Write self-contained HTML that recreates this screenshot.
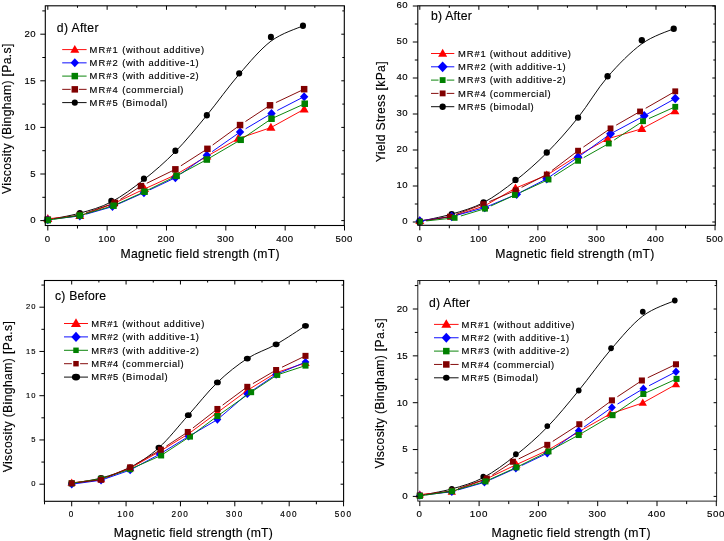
<!DOCTYPE html>
<html><head><meta charset="utf-8"><title>MR fluid charts</title>
<style>
html,body{margin:0;padding:0;background:#fff;}
body{width:724px;height:541px;overflow:hidden;}
svg{display:block;filter:blur(0.3px);}
text{font-family:"Liberation Sans",sans-serif;fill:#000;stroke:#000;stroke-width:0.15px;}
</style></head><body>
<svg width="724" height="541" viewBox="0 0 724 541">
<rect width="724" height="541" fill="#fff"/>
<g><path d="M47.8 219.67 C53.14 218.58 69.26 216.1 79.84 213.14 C90.43 210.19 100.61 207.55 111.29 201.96 C121.98 196.37 133.25 187.98 143.93 179.59 C154.61 171.2 164.9 162.35 175.38 151.63 C185.86 140.91 196.2 128.18 206.83 115.28 C217.46 102.39 228.49 86.62 239.17 74.28 C249.85 61.93 260.29 49.27 270.92 41.19 C281.55 33.11 297.62 28.38 302.96 25.81" fill="none" stroke="#000000" stroke-width="0.95"/>
<ellipse cx="47.8" cy="219.67" rx="3.05" ry="3.2" fill="#000000"/>
<ellipse cx="79.84" cy="213.14" rx="3.05" ry="3.2" fill="#000000"/>
<ellipse cx="111.29" cy="201.03" rx="3.05" ry="3.2" fill="#000000"/>
<ellipse cx="143.93" cy="178.66" rx="3.05" ry="3.2" fill="#000000"/>
<ellipse cx="175.38" cy="150.7" rx="3.05" ry="3.2" fill="#000000"/>
<ellipse cx="206.83" cy="115.28" rx="3.05" ry="3.2" fill="#000000"/>
<ellipse cx="239.17" cy="73.34" rx="3.05" ry="3.2" fill="#000000"/>
<ellipse cx="270.92" cy="37" rx="3.05" ry="3.2" fill="#000000"/>
<ellipse cx="302.96" cy="25.81" rx="3.05" ry="3.2" fill="#000000"/>
<path d="M47.8 218.74 L79.84 215.94 L113.07 203.82 L144.52 188.91 L175.38 174.93 L206.83 156.29 L238.28 138.58 L270.92 127.59 L304.15 109.23" fill="none" stroke="#ff0000" stroke-width="0.95"/>
<path d="M47.8 214.01 L52.3 221.89 L43.3 221.89 Z" fill="#ff0000"/>
<path d="M79.84 211.22 L84.34 219.09 L75.34 219.09 Z" fill="#ff0000"/>
<path d="M113.07 199.1 L117.57 206.97 L108.57 206.97 Z" fill="#ff0000"/>
<path d="M144.52 184.19 L149.02 192.06 L140.02 192.06 Z" fill="#ff0000"/>
<path d="M175.38 170.21 L179.88 178.08 L170.88 178.08 Z" fill="#ff0000"/>
<path d="M206.83 151.57 L211.33 159.44 L202.33 159.44 Z" fill="#ff0000"/>
<path d="M238.28 133.86 L242.78 141.73 L233.78 141.73 Z" fill="#ff0000"/>
<path d="M270.92 122.86 L275.42 130.74 L266.42 130.74 Z" fill="#ff0000"/>
<path d="M304.15 104.5 L308.65 112.38 L299.65 112.38 Z" fill="#ff0000"/>
<path d="M54.26 218.92 L78.85 216.06 M86.09 214.16 L111.52 206.89 M118.42 203.98 L143.02 193.05 M149.8 189.86 L174.48 178.16 M180.68 173.96 L206.02 155.94 M212.15 151.63 L239.24 132.63 M245.65 128.75 L270.65 113.93 M277.29 110.45 L303.26 97.1" fill="none" stroke="#0000ff" stroke-width="0.95"/>
<path d="M47.8 215.17 L51.98 219.67 L47.8 224.17 L43.61 219.67 Z" fill="#0000ff"/>
<path d="M79.84 211.44 L84.03 215.94 L79.84 220.44 L75.66 215.94 Z" fill="#0000ff"/>
<path d="M112.48 202.12 L116.67 206.62 L112.48 211.12 L108.3 206.62 Z" fill="#0000ff"/>
<path d="M143.93 188.14 L148.12 192.64 L143.93 197.14 L139.75 192.64 Z" fill="#0000ff"/>
<path d="M175.38 173.23 L179.57 177.73 L175.38 182.23 L171.2 177.73 Z" fill="#0000ff"/>
<path d="M206.83 150.86 L211.02 155.36 L206.83 159.86 L202.65 155.36 Z" fill="#0000ff"/>
<path d="M240.06 127.56 L244.25 132.06 L240.06 136.56 L235.88 132.06 Z" fill="#0000ff"/>
<path d="M271.51 108.92 L275.7 113.42 L271.51 117.92 L267.33 113.42 Z" fill="#0000ff"/>
<path d="M304.15 92.14 L308.33 96.64 L304.15 101.14 L299.96 96.64 Z" fill="#0000ff"/>
<path d="M54.23 218.73 L78.85 215.15 M85.99 212.88 L113.91 203.22 M120.32 199.38 L140.12 186.66 M146.81 183.27 L174.48 169.78 M180.86 165.84 L206.58 149.37 M212.68 145.01 L239.25 125.66 M245.49 121.49 L269.19 105.86 M275.91 102.53 L303.24 89.62" fill="none" stroke="#800000" stroke-width="0.95"/>
<rect x="44.55" y="216.42" width="6.5" height="6.5" fill="#800000"/>
<rect x="76.59" y="211.76" width="6.5" height="6.5" fill="#800000"/>
<rect x="111.6" y="199.64" width="6.5" height="6.5" fill="#800000"/>
<rect x="137.71" y="182.87" width="6.5" height="6.5" fill="#800000"/>
<rect x="172.13" y="166.09" width="6.5" height="6.5" fill="#800000"/>
<rect x="204.17" y="145.59" width="6.5" height="6.5" fill="#800000"/>
<rect x="236.81" y="121.82" width="6.5" height="6.5" fill="#800000"/>
<rect x="266.78" y="102.06" width="6.5" height="6.5" fill="#800000"/>
<rect x="300.9" y="85.94" width="6.5" height="6.5" fill="#800000"/>
<path d="M47.8 220.13 L79.84 215.47 L113.49 205.69 L144.52 191.71 L176.57 175.86 L206.83 159.55 L240.66 139.8 L271.51 118.73 L304.74 103.73" fill="none" stroke="#008000" stroke-width="0.95"/>
<rect x="44.55" y="216.88" width="6.5" height="6.5" fill="#008000"/>
<rect x="76.59" y="212.22" width="6.5" height="6.5" fill="#008000"/>
<rect x="110.24" y="202.44" width="6.5" height="6.5" fill="#008000"/>
<rect x="141.27" y="188.46" width="6.5" height="6.5" fill="#008000"/>
<rect x="173.32" y="172.61" width="6.5" height="6.5" fill="#008000"/>
<rect x="203.58" y="156.3" width="6.5" height="6.5" fill="#008000"/>
<rect x="237.41" y="136.55" width="6.5" height="6.5" fill="#008000"/>
<rect x="268.26" y="115.48" width="6.5" height="6.5" fill="#008000"/>
<rect x="301.49" y="100.48" width="6.5" height="6.5" fill="#008000"/>
<rect x="45.3" y="5.8" width="299" height="219.7" fill="none" stroke="#000" stroke-width="1.1"/>
<path d="M47.8 225.5 v5 M47.8 5.8 v4 M77.47 225.5 v3 M77.47 5.8 v2 M107.14 225.5 v5 M107.14 5.8 v4 M136.81 225.5 v3 M136.81 5.8 v2 M166.48 225.5 v5 M166.48 5.8 v4 M196.15 225.5 v3 M196.15 5.8 v2 M225.82 225.5 v5 M225.82 5.8 v4 M255.49 225.5 v3 M255.49 5.8 v2 M285.16 225.5 v5 M285.16 5.8 v4 M314.83 225.5 v3 M314.83 5.8 v2 M344.5 225.5 v5 M344.5 5.8 v4 M45.3 220.6 h-5 M344.3 220.6 h-3 M45.3 197.3 h-3 M344.3 197.3 h-2 M45.3 174 h-5 M344.3 174 h-3 M45.3 150.7 h-3 M344.3 150.7 h-2 M45.3 127.4 h-5 M344.3 127.4 h-3 M45.3 104.1 h-3 M344.3 104.1 h-2 M45.3 80.8 h-5 M344.3 80.8 h-3 M45.3 57.5 h-3 M344.3 57.5 h-2 M45.3 34.2 h-5 M344.3 34.2 h-3 M45.3 10.9 h-3 M344.3 10.9 h-2" stroke="#000" stroke-width="1" fill="none"/>
<text x="47.5" y="241.8" text-anchor="middle" font-size="9.6" letter-spacing="0.4">0</text>
<text x="106.84" y="241.8" text-anchor="middle" font-size="9.6" letter-spacing="0.4">100</text>
<text x="166.18" y="241.8" text-anchor="middle" font-size="9.6" letter-spacing="0.4">200</text>
<text x="225.52" y="241.8" text-anchor="middle" font-size="9.6" letter-spacing="0.4">300</text>
<text x="284.86" y="241.8" text-anchor="middle" font-size="9.6" letter-spacing="0.4">400</text>
<text x="344.2" y="241.8" text-anchor="middle" font-size="9.6" letter-spacing="0.4">500</text>
<text x="36.1" y="223.3" text-anchor="end" font-size="9.6" letter-spacing="0.4">0</text>
<text x="36.1" y="176.7" text-anchor="end" font-size="9.6" letter-spacing="0.4">5</text>
<text x="36.1" y="130.1" text-anchor="end" font-size="9.6" letter-spacing="0.4">10</text>
<text x="36.1" y="83.5" text-anchor="end" font-size="9.6" letter-spacing="0.4">15</text>
<text x="36.1" y="36.9" text-anchor="end" font-size="9.6" letter-spacing="0.4">20</text>
<text x="200.1" y="257.8" text-anchor="middle" font-size="12.2" letter-spacing="0.27">Magnetic field strength (mT)</text>
<text transform="translate(11.1 118.6) rotate(-90)" text-anchor="middle" font-size="12.2" letter-spacing="0.33">Viscosity (Bingham) [Pa.s]</text>
<text x="56.8" y="31.8" font-size="12.2" letter-spacing="0.35">d) After</text>
<path d="M62.2 49.6 H86.6" stroke="#ff0000" stroke-width="0.95"/>
<path d="M74.8 44.88 L79.3 52.75 L70.3 52.75 Z" fill="#ff0000"/>
<text x="89.5" y="52.8" font-size="9.4" letter-spacing="0.65"><tspan letter-spacing="1.1">MR#1</tspan> (without additive)</text>
<path d="M62.2 62.85 H86.6" stroke="#0000ff" stroke-width="0.95"/>
<path d="M74.8 58.35 L78.98 62.85 L74.8 67.35 L70.61 62.85 Z" fill="#0000ff"/>
<text x="89.5" y="66.05" font-size="9.4" letter-spacing="0.65"><tspan letter-spacing="1.1">MR#2</tspan> (with additive-1)</text>
<path d="M62.2 76.1 H86.6" stroke="#008000" stroke-width="0.95"/>
<rect x="71.55" y="72.85" width="6.5" height="6.5" fill="#008000"/>
<text x="89.5" y="79.3" font-size="9.4" letter-spacing="0.65"><tspan letter-spacing="1.1">MR#3</tspan> (with additive-2)</text>
<path d="M62.2 89.35 H70.7 M78.9 89.35 H86.6" stroke="#800000" stroke-width="0.95"/>
<rect x="71.55" y="86.1" width="6.5" height="6.5" fill="#800000"/>
<text x="89.5" y="92.55" font-size="9.4" letter-spacing="0.65"><tspan letter-spacing="1.1">MR#4</tspan> (commercial)</text>
<path d="M62.2 102.6 H86.6" stroke="#000000" stroke-width="0.95"/>
<ellipse cx="74.8" cy="102.6" rx="3.05" ry="3.2" fill="#000000"/>
<text x="89.5" y="105.8" font-size="9.4" letter-spacing="0.65"><tspan letter-spacing="1.1">MR#5</tspan> (Bimodal)</text></g>
<g><path d="M419.8 221.28 C425.11 220.08 441.06 217.2 451.69 214.08 C462.32 210.96 472.94 208.14 483.57 202.56 C494.2 196.98 504.93 188.88 515.46 180.6 C525.99 172.32 536.33 163.38 546.76 152.88 C557.19 142.38 567.92 130.26 578.05 117.6 C588.19 104.94 596.95 89.22 607.58 76.92 C618.21 64.62 630.81 51.84 641.83 43.8 C652.85 35.76 668.4 31.2 673.72 28.68" fill="none" stroke="#000000" stroke-width="0.95"/>
<ellipse cx="419.8" cy="221.28" rx="3.15" ry="3.2" fill="#000000"/>
<ellipse cx="451.69" cy="214.08" rx="3.15" ry="3.2" fill="#000000"/>
<ellipse cx="483.57" cy="202.56" rx="3.15" ry="3.2" fill="#000000"/>
<ellipse cx="515.46" cy="179.88" rx="3.15" ry="3.2" fill="#000000"/>
<ellipse cx="546.76" cy="152.52" rx="3.15" ry="3.2" fill="#000000"/>
<ellipse cx="578.05" cy="117.6" rx="3.15" ry="3.2" fill="#000000"/>
<ellipse cx="607.58" cy="76.2" rx="3.15" ry="3.2" fill="#000000"/>
<ellipse cx="641.83" cy="40.2" rx="3.15" ry="3.2" fill="#000000"/>
<ellipse cx="673.72" cy="28.68" rx="3.15" ry="3.2" fill="#000000"/>
<path d="M419.8 220.92 L451.69 216.6 L484.75 205.8 L515.46 188.16 L546.76 175.2 L578.05 155.4 L607.58 138.84 L641.83 128.76 L674.9 111.12" fill="none" stroke="#ff0000" stroke-width="0.95"/>
<path d="M419.8 216.19 L424.3 224.07 L415.3 224.07 Z" fill="#ff0000"/>
<path d="M451.69 211.88 L456.19 219.75 L447.19 219.75 Z" fill="#ff0000"/>
<path d="M484.75 201.08 L489.25 208.95 L480.25 208.95 Z" fill="#ff0000"/>
<path d="M515.46 183.44 L519.96 191.31 L510.96 191.31 Z" fill="#ff0000"/>
<path d="M546.76 170.47 L551.26 178.35 L542.26 178.35 Z" fill="#ff0000"/>
<path d="M578.05 150.67 L582.55 158.55 L573.55 158.55 Z" fill="#ff0000"/>
<path d="M607.58 134.11 L612.08 141.99 L603.08 141.99 Z" fill="#ff0000"/>
<path d="M641.83 124.03 L646.33 131.91 L637.33 131.91 Z" fill="#ff0000"/>
<path d="M674.9 106.39 L679.4 114.27 L670.4 114.27 Z" fill="#ff0000"/>
<path d="M419.8 220.92 L451.69 216.6 L484.75 207.6 L516.64 194.28 L546.76 178.8 L578.05 157.2 L610.53 133.8 L644.19 115.8 L675.25 98.52" fill="none" stroke="#0000ff" stroke-width="0.95"/>
<path d="M419.8 216.15 L424.24 220.92 L419.8 225.69 L415.36 220.92 Z" fill="#0000ff"/>
<path d="M451.69 211.83 L456.12 216.6 L451.69 221.37 L447.25 216.6 Z" fill="#0000ff"/>
<path d="M484.75 202.83 L489.19 207.6 L484.75 212.37 L480.32 207.6 Z" fill="#0000ff"/>
<path d="M516.64 189.51 L521.08 194.28 L516.64 199.05 L512.21 194.28 Z" fill="#0000ff"/>
<path d="M546.76 174.03 L551.19 178.8 L546.76 183.57 L542.32 178.8 Z" fill="#0000ff"/>
<path d="M578.05 152.43 L582.49 157.2 L578.05 161.97 L573.62 157.2 Z" fill="#0000ff"/>
<path d="M610.53 129.03 L614.97 133.8 L610.53 138.57 L606.1 133.8 Z" fill="#0000ff"/>
<path d="M644.19 111.03 L648.63 115.8 L644.19 120.57 L639.75 115.8 Z" fill="#0000ff"/>
<path d="M675.25 93.75 L679.69 98.52 L675.25 103.29 L670.81 98.52 Z" fill="#0000ff"/>
<path d="M426.21 220.57 L448.93 216.77 M456.01 214.34 L482.4 204.53 M489.32 201.63 L514.9 190.71 M521.6 187.36 L545.87 174.94 M551.93 170.55 L577.26 151.32 M583.41 147.04 L609.71 128.97 M616.17 125.17 L639.19 111.98 M645.7 108.25 L674.38 91.82" fill="none" stroke="#800000" stroke-width="0.95"/>
<rect x="416.88" y="218.71" width="5.85" height="5.85" fill="#800000"/>
<rect x="446.99" y="213.67" width="5.85" height="5.85" fill="#800000"/>
<rect x="480.41" y="201.25" width="5.85" height="5.85" fill="#800000"/>
<rect x="512.89" y="187.39" width="5.85" height="5.85" fill="#800000"/>
<rect x="543.83" y="171.56" width="5.85" height="5.85" fill="#800000"/>
<rect x="575.13" y="147.79" width="5.85" height="5.85" fill="#800000"/>
<rect x="607.61" y="125.47" width="5.85" height="5.85" fill="#800000"/>
<rect x="637.13" y="108.56" width="5.85" height="5.85" fill="#800000"/>
<rect x="672.33" y="88.39" width="5.85" height="5.85" fill="#800000"/>
<path d="M426.26 220.94 L453.65 217.97 M460.86 215.98 L484.03 208.97 M490.9 205.97 L513.96 195.42 M520.78 192.28 L547.62 179.94 M554.02 176.04 L577.21 161.34 M583.72 157.61 L607.89 144.01 M614.21 139.97 L642.17 121.75 M648.94 118.55 L674.34 107.21" fill="none" stroke="#008000" stroke-width="0.95"/>
<rect x="416.88" y="218.71" width="5.85" height="5.85" fill="#008000"/>
<rect x="451.71" y="214.94" width="5.85" height="5.85" fill="#008000"/>
<rect x="482.07" y="205.75" width="5.85" height="5.85" fill="#008000"/>
<rect x="511.95" y="192.07" width="5.85" height="5.85" fill="#008000"/>
<rect x="545.6" y="176.59" width="5.85" height="5.85" fill="#008000"/>
<rect x="575.13" y="157.88" width="5.85" height="5.85" fill="#008000"/>
<rect x="605.84" y="140.59" width="5.85" height="5.85" fill="#008000"/>
<rect x="640.08" y="118.28" width="5.85" height="5.85" fill="#008000"/>
<rect x="672.33" y="103.88" width="5.85" height="5.85" fill="#008000"/>
<rect x="417.8" y="5.8" width="297.5" height="219.5" fill="none" stroke="#000" stroke-width="1.1"/>
<path d="M419.8 225.3 v5 M419.8 5.8 v4 M449.32 225.3 v3 M449.32 5.8 v2 M478.85 225.3 v5 M478.85 5.8 v4 M508.38 225.3 v3 M508.38 5.8 v2 M537.9 225.3 v5 M537.9 5.8 v4 M567.42 225.3 v3 M567.42 5.8 v2 M596.95 225.3 v5 M596.95 5.8 v4 M626.48 225.3 v3 M626.48 5.8 v2 M656 225.3 v5 M656 5.8 v4 M685.53 225.3 v3 M685.53 5.8 v2 M715.05 225.3 v5 M715.05 5.8 v4 M417.8 222 h-5 M715.3 222 h-3 M417.8 204 h-3 M715.3 204 h-2 M417.8 186 h-5 M715.3 186 h-3 M417.8 168 h-3 M715.3 168 h-2 M417.8 150 h-5 M715.3 150 h-3 M417.8 132 h-3 M715.3 132 h-2 M417.8 114 h-5 M715.3 114 h-3 M417.8 96 h-3 M715.3 96 h-2 M417.8 78 h-5 M715.3 78 h-3 M417.8 60 h-3 M715.3 60 h-2 M417.8 42 h-5 M715.3 42 h-3 M417.8 24 h-3 M715.3 24 h-2 M417.8 6 h-5 M715.3 6 h-3" stroke="#000" stroke-width="1" fill="none"/>
<text x="419.5" y="241.8" text-anchor="middle" font-size="9.6" letter-spacing="0.4">0</text>
<text x="478.55" y="241.8" text-anchor="middle" font-size="9.6" letter-spacing="0.4">100</text>
<text x="537.6" y="241.8" text-anchor="middle" font-size="9.6" letter-spacing="0.4">200</text>
<text x="596.65" y="241.8" text-anchor="middle" font-size="9.6" letter-spacing="0.4">300</text>
<text x="655.7" y="241.8" text-anchor="middle" font-size="9.6" letter-spacing="0.4">400</text>
<text x="714.75" y="241.8" text-anchor="middle" font-size="9.6" letter-spacing="0.4">500</text>
<text x="408" y="224.4" text-anchor="end" font-size="9.6" letter-spacing="0.4">0</text>
<text x="408" y="188.4" text-anchor="end" font-size="9.6" letter-spacing="0.4">10</text>
<text x="408" y="152.4" text-anchor="end" font-size="9.6" letter-spacing="0.4">20</text>
<text x="408" y="116.4" text-anchor="end" font-size="9.6" letter-spacing="0.4">30</text>
<text x="408" y="80.4" text-anchor="end" font-size="9.6" letter-spacing="0.4">40</text>
<text x="408" y="44.4" text-anchor="end" font-size="9.6" letter-spacing="0.4">50</text>
<text x="408" y="8.4" text-anchor="end" font-size="9.6" letter-spacing="0.4">60</text>
<text x="575" y="258.4" text-anchor="middle" font-size="12.2" letter-spacing="0.27">Magnetic field strength (mT)</text>
<text transform="translate(385 111.7) rotate(-90)" text-anchor="middle" font-size="12.2" letter-spacing="0.3">Yield Stress [kPa]</text>
<text x="431" y="20" font-size="12.2" letter-spacing="0.2">b) After</text>
<path d="M431 53.5 H454.3" stroke="#ff0000" stroke-width="0.95"/>
<path d="M442.65 48.77 L447.15 56.65 L438.15 56.65 Z" fill="#ff0000"/>
<text x="458" y="56.7" font-size="9.4" letter-spacing="0.6"><tspan letter-spacing="0.9">MR#1</tspan> (without additive)</text>
<path d="M431 66.8 H454.3" stroke="#0000ff" stroke-width="0.95"/>
<path d="M442.65 61.4 L447.67 66.8 L442.65 72.2 L437.63 66.8 Z" fill="#0000ff"/>
<text x="458" y="70" font-size="9.4" letter-spacing="0.6"><tspan letter-spacing="0.9">MR#2</tspan> (with additive-1)</text>
<path d="M431 80.1 H438.55 M446.75 80.1 H454.3" stroke="#008000" stroke-width="0.95"/>
<rect x="439.72" y="77.17" width="5.85" height="5.85" fill="#008000"/>
<text x="458" y="83.3" font-size="9.4" letter-spacing="0.6"><tspan letter-spacing="0.9">MR#3</tspan> (with additive-2)</text>
<path d="M431 93.4 H438.55 M446.75 93.4 H454.3" stroke="#800000" stroke-width="0.95"/>
<rect x="439.72" y="90.48" width="5.85" height="5.85" fill="#800000"/>
<text x="458" y="96.6" font-size="9.4" letter-spacing="0.6"><tspan letter-spacing="0.9">MR#4</tspan> (commercial)</text>
<path d="M431 106.7 H454.3" stroke="#000000" stroke-width="0.95"/>
<ellipse cx="442.65" cy="106.7" rx="3.15" ry="3.2" fill="#000000"/>
<text x="458" y="109.9" font-size="9.4" letter-spacing="0.6"><tspan letter-spacing="0.9">MR#5</tspan> (bimodal)</text></g>
<g><path d="M71.7 483.31 C76.59 482.43 91.32 480.66 101.06 478 C110.8 475.35 120.5 472.44 130.15 467.38 C139.8 462.33 149.27 456.35 158.96 447.65 C168.66 438.95 178.58 426.04 188.32 415.17 C198.06 404.3 207.58 391.87 217.41 382.43 C227.24 372.99 237.53 364.87 247.32 358.53 C257.1 352.19 266.44 349.83 276.13 344.37 C285.83 338.91 300.6 328.88 305.49 325.78" fill="none" stroke="#000000" stroke-width="0.95"/>
<ellipse cx="71.7" cy="483.31" rx="3.44" ry="2.88" fill="#000000"/>
<ellipse cx="101.06" cy="478" rx="3.44" ry="2.88" fill="#000000"/>
<ellipse cx="130.15" cy="467.38" rx="3.44" ry="2.88" fill="#000000"/>
<ellipse cx="158.96" cy="447.65" rx="3.44" ry="2.88" fill="#000000"/>
<ellipse cx="188.32" cy="415.17" rx="3.44" ry="2.88" fill="#000000"/>
<ellipse cx="217.41" cy="382.43" rx="3.44" ry="2.88" fill="#000000"/>
<ellipse cx="247.32" cy="358.53" rx="3.44" ry="2.88" fill="#000000"/>
<ellipse cx="276.13" cy="344.37" rx="3.44" ry="2.88" fill="#000000"/>
<ellipse cx="305.49" cy="325.78" rx="3.44" ry="2.88" fill="#000000"/>
<path d="M71.7 482.87 L101.06 479.33 L130.15 468.27 L159.78 451.45 L188.6 433.75 L217.41 412.51 L247.32 390.39 L276.13 372.69 L305.49 362.95" fill="none" stroke="#ff0000" stroke-width="0.95"/>
<path d="M71.7 478.48 L75.89 485.8 L67.52 485.8 Z" fill="#ff0000"/>
<path d="M101.06 474.94 L105.24 482.26 L96.87 482.26 Z" fill="#ff0000"/>
<path d="M130.15 463.88 L134.33 471.2 L125.96 471.2 Z" fill="#ff0000"/>
<path d="M159.78 447.06 L163.96 454.38 L155.59 454.38 Z" fill="#ff0000"/>
<path d="M188.6 429.36 L192.78 436.68 L184.41 436.68 Z" fill="#ff0000"/>
<path d="M217.41 408.12 L221.6 415.44 L213.23 415.44 Z" fill="#ff0000"/>
<path d="M247.32 386 L251.5 393.32 L243.13 393.32 Z" fill="#ff0000"/>
<path d="M276.13 368.3 L280.32 375.62 L271.95 375.62 Z" fill="#ff0000"/>
<path d="M305.49 358.56 L309.68 365.88 L301.31 365.88 Z" fill="#ff0000"/>
<path d="M71.7 484.2 L101.06 480.22 L130.15 470.04 L159.78 454.11 L188.6 436.41 L217.41 419.6 L247.32 393.93 L276.13 374.46 L305.49 362.07" fill="none" stroke="#0000ff" stroke-width="0.95"/>
<path d="M71.7 480.01 L75.59 484.2 L71.7 488.38 L67.81 484.2 Z" fill="#0000ff"/>
<path d="M101.06 476.03 L104.95 480.22 L101.06 484.4 L97.17 480.22 Z" fill="#0000ff"/>
<path d="M130.15 465.85 L134.04 470.04 L130.15 474.22 L126.26 470.04 Z" fill="#0000ff"/>
<path d="M159.78 449.93 L163.67 454.11 L159.78 458.3 L155.89 454.11 Z" fill="#0000ff"/>
<path d="M188.6 432.22 L192.49 436.41 L188.6 440.59 L184.7 436.41 Z" fill="#0000ff"/>
<path d="M217.41 415.41 L221.3 419.6 L217.41 423.78 L213.52 419.6 Z" fill="#0000ff"/>
<path d="M247.32 389.75 L251.21 393.93 L247.32 398.12 L243.42 393.93 Z" fill="#0000ff"/>
<path d="M276.13 370.27 L280.02 374.46 L276.13 378.64 L272.24 374.46 Z" fill="#0000ff"/>
<path d="M305.49 357.88 L309.38 362.07 L305.49 366.25 L301.6 362.07 Z" fill="#0000ff"/>
<path d="M71.7 483.31 L101.06 478.89 L130.15 469.15 L161.14 455.44 L189.95 436.59 L217.41 416.06 L251.12 392.16 L277.22 374.9 L305.49 365.61" fill="none" stroke="#008000" stroke-width="0.95"/>
<rect x="68.68" y="480.29" width="6.04" height="6.04" fill="#008000"/>
<rect x="98.04" y="475.87" width="6.04" height="6.04" fill="#008000"/>
<rect x="127.13" y="466.13" width="6.04" height="6.04" fill="#008000"/>
<rect x="158.12" y="452.42" width="6.04" height="6.04" fill="#008000"/>
<rect x="186.93" y="433.56" width="6.04" height="6.04" fill="#008000"/>
<rect x="214.39" y="413.03" width="6.04" height="6.04" fill="#008000"/>
<rect x="248.1" y="389.14" width="6.04" height="6.04" fill="#008000"/>
<rect x="274.2" y="371.88" width="6.04" height="6.04" fill="#008000"/>
<rect x="302.47" y="362.59" width="6.04" height="6.04" fill="#008000"/>
<path d="M78.15 482.54 L100.07 479.89 M107.04 477.23 L129.23 467.78 M135.78 464.14 L160 450.18 M166.3 446.11 L186.94 432.53 M192.91 428 L216.62 409.59 M222.64 405.11 L246.51 387.44 M252.93 383.57 L275.27 370.54 M281.99 367.21 L304.59 356.31" fill="none" stroke="#800000" stroke-width="0.95"/>
<rect x="68.68" y="480.29" width="6.04" height="6.04" fill="#800000"/>
<rect x="98.04" y="476.75" width="6.04" height="6.04" fill="#800000"/>
<rect x="127.13" y="464.36" width="6.04" height="6.04" fill="#800000"/>
<rect x="157.84" y="446.66" width="6.04" height="6.04" fill="#800000"/>
<rect x="184.76" y="428.96" width="6.04" height="6.04" fill="#800000"/>
<rect x="214.39" y="405.95" width="6.04" height="6.04" fill="#800000"/>
<rect x="244.29" y="383.83" width="6.04" height="6.04" fill="#800000"/>
<rect x="273.11" y="367.01" width="6.04" height="6.04" fill="#800000"/>
<rect x="302.47" y="352.85" width="6.04" height="6.04" fill="#800000"/>
<rect x="44.4" y="280.5" width="299.2" height="220.8" fill="none" stroke="#000" stroke-width="1.1"/>
<path d="M44.52 501.3 v3 M44.52 280.5 v2 M71.7 501.3 v5 M71.7 280.5 v4 M98.89 501.3 v3 M98.89 280.5 v2 M126.07 501.3 v5 M126.07 280.5 v4 M153.25 501.3 v3 M153.25 280.5 v2 M180.44 501.3 v5 M180.44 280.5 v4 M207.62 501.3 v3 M207.62 280.5 v2 M234.81 501.3 v5 M234.81 280.5 v4 M262 501.3 v3 M262 280.5 v2 M289.18 501.3 v5 M289.18 280.5 v4 M316.37 501.3 v3 M316.37 280.5 v2 M343.55 501.3 v5 M343.55 280.5 v4 M44.4 484.2 h-5 M343.6 484.2 h-3 M44.4 462.07 h-3 M343.6 462.07 h-2 M44.4 439.95 h-5 M343.6 439.95 h-3 M44.4 417.82 h-3 M343.6 417.82 h-2 M44.4 395.7 h-5 M343.6 395.7 h-3 M44.4 373.57 h-3 M343.6 373.57 h-2 M44.4 351.45 h-5 M343.6 351.45 h-3 M44.4 329.32 h-3 M343.6 329.32 h-2 M44.4 307.2 h-5 M343.6 307.2 h-3 M44.4 285.07 h-3 M343.6 285.07 h-2" stroke="#000" stroke-width="1" fill="none"/>
<text x="71.65" y="516.6" text-anchor="middle" font-size="8.2" letter-spacing="1.3">0</text>
<text x="126.02" y="516.6" text-anchor="middle" font-size="8.2" letter-spacing="1.3">100</text>
<text x="180.39" y="516.6" text-anchor="middle" font-size="8.2" letter-spacing="1.3">200</text>
<text x="234.76" y="516.6" text-anchor="middle" font-size="8.2" letter-spacing="1.3">300</text>
<text x="289.13" y="516.6" text-anchor="middle" font-size="8.2" letter-spacing="1.3">400</text>
<text x="343.5" y="516.6" text-anchor="middle" font-size="8.2" letter-spacing="1.3">500</text>
<text x="36.7" y="486.4" text-anchor="end" font-size="7.6" letter-spacing="1.1">0</text>
<text x="36.7" y="442.15" text-anchor="end" font-size="7.6" letter-spacing="1.1">5</text>
<text x="36.7" y="397.9" text-anchor="end" font-size="7.6" letter-spacing="1.1">10</text>
<text x="36.7" y="353.65" text-anchor="end" font-size="7.6" letter-spacing="1.1">15</text>
<text x="36.7" y="309.4" text-anchor="end" font-size="7.6" letter-spacing="1.1">20</text>
<text x="193.5" y="536.7" text-anchor="middle" font-size="12.2" letter-spacing="0.27">Magnetic field strength (mT)</text>
<text transform="translate(12.3 396.5) rotate(-90)" text-anchor="middle" font-size="12.2" letter-spacing="0.37">Viscosity (Bingham) [Pa.s]</text>
<text x="55" y="300" font-size="12.2" letter-spacing="0.2">c) Before</text>
<path d="M64 323.5 H88" stroke="#ff0000" stroke-width="0.95"/>
<path d="M76 318.21 L81.04 327.03 L70.96 327.03 Z" fill="#ff0000"/>
<text x="91.2" y="326.7" font-size="9.4" letter-spacing="0.66"><tspan letter-spacing="0.7">MR#1</tspan> (without additive)</text>
<path d="M64 336.9 H88" stroke="#0000ff" stroke-width="0.95"/>
<path d="M76 331.86 L80.69 336.9 L76 341.94 L71.31 336.9 Z" fill="#0000ff"/>
<text x="91.2" y="340.1" font-size="9.4" letter-spacing="0.66"><tspan letter-spacing="0.7">MR#2</tspan> (with additive-1)</text>
<path d="M64 350.3 H88" stroke="#008000" stroke-width="0.95"/>
<rect x="73.27" y="347.57" width="5.46" height="5.46" fill="#008000"/>
<text x="91.2" y="353.5" font-size="9.4" letter-spacing="0.66"><tspan letter-spacing="0.7">MR#3</tspan> (with additive-2)</text>
<path d="M64 363.7 H71.9 M80.1 363.7 H88" stroke="#800000" stroke-width="0.95"/>
<rect x="73.27" y="360.97" width="5.46" height="5.46" fill="#800000"/>
<text x="91.2" y="366.9" font-size="9.4" letter-spacing="0.66"><tspan letter-spacing="0.7">MR#4</tspan> (commercial)</text>
<path d="M64 377.1 H88" stroke="#000000" stroke-width="0.95"/>
<ellipse cx="76" cy="377.1" rx="4.14" ry="3.47" fill="#000000"/>
<text x="91.2" y="380.3" font-size="9.4" letter-spacing="0.66"><tspan letter-spacing="0.7">MR#5</tspan> (Bimodal)</text></g>
<g><path d="M419.8 495.46 C425.14 494.37 441.25 491.87 451.82 488.9 C462.4 485.94 472.58 483.28 483.25 477.66 C493.92 472.04 505.19 463.6 515.87 455.17 C526.54 446.74 536.82 437.84 547.29 427.06 C557.77 416.29 568.1 403.48 578.72 390.52 C589.35 377.56 600.37 361.71 611.04 349.29 C621.72 336.88 632.14 324.15 642.77 316.03 C653.39 307.91 669.45 303.14 674.79 300.57" fill="none" stroke="#000000" stroke-width="0.95"/>
<ellipse cx="419.8" cy="495.46" rx="2.84" ry="2.98" fill="#000000"/>
<ellipse cx="451.82" cy="488.9" rx="2.84" ry="2.98" fill="#000000"/>
<ellipse cx="483.25" cy="476.72" rx="2.84" ry="2.98" fill="#000000"/>
<ellipse cx="515.87" cy="454.23" rx="2.84" ry="2.98" fill="#000000"/>
<ellipse cx="547.29" cy="426.12" rx="2.84" ry="2.98" fill="#000000"/>
<ellipse cx="578.72" cy="390.52" rx="2.84" ry="2.98" fill="#000000"/>
<ellipse cx="611.04" cy="348.35" rx="2.84" ry="2.98" fill="#000000"/>
<ellipse cx="642.77" cy="311.81" rx="2.84" ry="2.98" fill="#000000"/>
<ellipse cx="674.79" cy="300.57" rx="2.84" ry="2.98" fill="#000000"/>
<path d="M419.8 494.53 L451.82 491.71 L485.03 479.53 L516.46 464.54 L547.29 450.49 L578.72 431.75 L610.15 413.94 L642.77 402.89 L675.98 384.43" fill="none" stroke="#ff0000" stroke-width="0.95"/>
<path d="M419.8 490.13 L423.99 497.46 L415.62 497.46 Z" fill="#ff0000"/>
<path d="M451.82 487.32 L456.01 494.64 L447.64 494.64 Z" fill="#ff0000"/>
<path d="M485.03 475.14 L489.21 482.46 L480.84 482.46 Z" fill="#ff0000"/>
<path d="M516.46 460.15 L520.64 467.47 L512.27 467.47 Z" fill="#ff0000"/>
<path d="M547.29 446.09 L551.48 453.42 L543.11 453.42 Z" fill="#ff0000"/>
<path d="M578.72 427.35 L582.91 434.68 L574.54 434.68 Z" fill="#ff0000"/>
<path d="M610.15 409.55 L614.34 416.87 L605.97 416.87 Z" fill="#ff0000"/>
<path d="M642.77 398.49 L646.95 405.82 L638.58 405.82 Z" fill="#ff0000"/>
<path d="M675.98 380.03 L680.16 387.36 L671.79 387.36 Z" fill="#ff0000"/>
<path d="M426.26 494.71 L450.83 491.83 M458.07 489.92 L483.48 482.62 M490.37 479.69 L514.95 468.7 M521.73 465.49 L546.39 453.73 M552.58 449.52 L577.91 431.39 M584.04 427.06 L611.11 407.96 M617.51 404.06 L642.5 389.16 M649.13 385.66 L675.09 372.24" fill="none" stroke="#0000ff" stroke-width="0.95"/>
<path d="M419.8 491.28 L423.69 495.46 L419.8 499.65 L415.91 495.46 Z" fill="#0000ff"/>
<path d="M451.82 487.53 L455.71 491.71 L451.82 495.9 L447.93 491.71 Z" fill="#0000ff"/>
<path d="M484.44 478.16 L488.33 482.34 L484.44 486.53 L480.54 482.34 Z" fill="#0000ff"/>
<path d="M515.87 464.1 L519.76 468.29 L515.87 472.47 L511.97 468.29 Z" fill="#0000ff"/>
<path d="M547.29 449.11 L551.19 453.3 L547.29 457.48 L543.4 453.3 Z" fill="#0000ff"/>
<path d="M578.72 426.62 L582.62 430.81 L578.72 435 L574.83 430.81 Z" fill="#0000ff"/>
<path d="M611.93 403.2 L615.82 407.38 L611.93 411.57 L608.04 407.38 Z" fill="#0000ff"/>
<path d="M643.36 384.46 L647.25 388.64 L643.36 392.83 L639.47 388.64 Z" fill="#0000ff"/>
<path d="M675.98 367.59 L679.87 371.78 L675.98 375.96 L672.08 371.78 Z" fill="#0000ff"/>
<path d="M426.23 494.52 L450.83 490.92 M457.96 488.64 L485.86 478.93 M492.27 475.07 L512.06 462.27 M518.74 458.87 L546.4 445.31 M552.76 441.35 L578.48 424.79 M584.56 420.41 L611.13 400.95 M617.35 396.76 L641.05 381.05 M647.75 377.7 L675.07 364.71" fill="none" stroke="#800000" stroke-width="0.95"/>
<rect x="416.78" y="492.44" width="6.04" height="6.04" fill="#800000"/>
<rect x="448.8" y="487.76" width="6.04" height="6.04" fill="#800000"/>
<rect x="483.79" y="475.57" width="6.04" height="6.04" fill="#800000"/>
<rect x="509.88" y="458.71" width="6.04" height="6.04" fill="#800000"/>
<rect x="544.27" y="441.84" width="6.04" height="6.04" fill="#800000"/>
<rect x="576.29" y="421.23" width="6.04" height="6.04" fill="#800000"/>
<rect x="608.91" y="397.33" width="6.04" height="6.04" fill="#800000"/>
<rect x="638.86" y="377.47" width="6.04" height="6.04" fill="#800000"/>
<rect x="672.95" y="361.26" width="6.04" height="6.04" fill="#800000"/>
<path d="M419.8 495.93 L451.82 491.25 L485.45 481.41 L516.46 467.35 L548.48 451.42 L578.72 435.03 L612.52 415.16 L643.36 393.99 L676.57 378.9" fill="none" stroke="#008000" stroke-width="0.95"/>
<rect x="416.78" y="492.91" width="6.04" height="6.04" fill="#008000"/>
<rect x="448.8" y="488.22" width="6.04" height="6.04" fill="#008000"/>
<rect x="482.42" y="478.39" width="6.04" height="6.04" fill="#008000"/>
<rect x="513.44" y="464.33" width="6.04" height="6.04" fill="#008000"/>
<rect x="545.46" y="448.4" width="6.04" height="6.04" fill="#008000"/>
<rect x="575.7" y="432" width="6.04" height="6.04" fill="#008000"/>
<rect x="609.5" y="412.14" width="6.04" height="6.04" fill="#008000"/>
<rect x="640.34" y="390.96" width="6.04" height="6.04" fill="#008000"/>
<rect x="673.55" y="375.88" width="6.04" height="6.04" fill="#008000"/>
<rect x="417.8" y="280.5" width="298.8" height="220.6" fill="none" stroke="#222" stroke-width="1.0"/>
<path d="M419.8 501.1 v5 M419.8 280.5 v4 M449.45 501.1 v3 M449.45 280.5 v2 M479.1 501.1 v5 M479.1 280.5 v4 M508.75 501.1 v3 M508.75 280.5 v2 M538.4 501.1 v5 M538.4 280.5 v4 M568.05 501.1 v3 M568.05 280.5 v2 M597.7 501.1 v5 M597.7 280.5 v4 M627.35 501.1 v3 M627.35 280.5 v2 M657 501.1 v5 M657 280.5 v4 M686.65 501.1 v3 M686.65 280.5 v2 M716.3 501.1 v5 M716.3 280.5 v4 M417.8 496.4 h-5 M716.6 496.4 h-3 M417.8 472.97 h-3 M716.6 472.97 h-2 M417.8 449.55 h-5 M716.6 449.55 h-3 M417.8 426.12 h-3 M716.6 426.12 h-2 M417.8 402.7 h-5 M716.6 402.7 h-3 M417.8 379.27 h-3 M716.6 379.27 h-2 M417.8 355.85 h-5 M716.6 355.85 h-3 M417.8 332.42 h-3 M716.6 332.42 h-2 M417.8 309 h-5 M716.6 309 h-3 M417.8 285.57 h-3 M716.6 285.57 h-2" stroke="#000" stroke-width="1" fill="none"/>
<text x="419.6" y="516.7" text-anchor="middle" font-size="9.8" letter-spacing="0.6">0</text>
<text x="478.9" y="516.7" text-anchor="middle" font-size="9.8" letter-spacing="0.6">100</text>
<text x="538.2" y="516.7" text-anchor="middle" font-size="9.8" letter-spacing="0.6">200</text>
<text x="597.5" y="516.7" text-anchor="middle" font-size="9.8" letter-spacing="0.6">300</text>
<text x="656.8" y="516.7" text-anchor="middle" font-size="9.8" letter-spacing="0.6">400</text>
<text x="716.1" y="516.7" text-anchor="middle" font-size="9.8" letter-spacing="0.6">500</text>
<text x="407.65" y="499.3" text-anchor="end" font-size="9.8" letter-spacing="0.05">0</text>
<text x="407.65" y="452.45" text-anchor="end" font-size="9.8" letter-spacing="0.05">5</text>
<text x="407.65" y="405.6" text-anchor="end" font-size="9.8" letter-spacing="0.05">10</text>
<text x="407.65" y="358.75" text-anchor="end" font-size="9.8" letter-spacing="0.05">15</text>
<text x="407.65" y="311.9" text-anchor="end" font-size="9.8" letter-spacing="0.05">20</text>
<text x="571.2" y="536.8" text-anchor="middle" font-size="12.2" letter-spacing="0.27">Magnetic field strength (mT)</text>
<text transform="translate(383.8 393.3) rotate(-90)" text-anchor="middle" font-size="12.2" letter-spacing="0.33">Viscosity (Bingham) [Pa.s]</text>
<text x="429" y="306.6" font-size="12.2" letter-spacing="0.25">d) After</text>
<path d="M434 324.4 H458.6" stroke="#ff0000" stroke-width="0.95"/>
<path d="M446.3 319.2 L451.25 327.86 L441.35 327.86 Z" fill="#ff0000"/>
<text x="461.5" y="327.6" font-size="9.4" letter-spacing="0.6"><tspan letter-spacing="0.9">MR#1</tspan> (without additive)</text>
<path d="M434 337.75 H458.6" stroke="#0000ff" stroke-width="0.95"/>
<path d="M446.3 332.8 L450.9 337.75 L446.3 342.7 L441.7 337.75 Z" fill="#0000ff"/>
<text x="461.5" y="340.95" font-size="9.4" letter-spacing="0.6"><tspan letter-spacing="0.9">MR#2</tspan> (with additive-1)</text>
<path d="M434 351.1 H458.6" stroke="#008000" stroke-width="0.95"/>
<rect x="443.05" y="347.85" width="6.5" height="6.5" fill="#008000"/>
<text x="461.5" y="354.3" font-size="9.4" letter-spacing="0.6"><tspan letter-spacing="0.9">MR#3</tspan> (with additive-2)</text>
<path d="M434 364.45 H442.2 M450.4 364.45 H458.6" stroke="#800000" stroke-width="0.95"/>
<rect x="443.05" y="361.2" width="6.5" height="6.5" fill="#800000"/>
<text x="461.5" y="367.65" font-size="9.4" letter-spacing="0.6"><tspan letter-spacing="0.9">MR#4</tspan> (commercial)</text>
<path d="M434 377.8 H458.6" stroke="#000000" stroke-width="0.95"/>
<ellipse cx="446.3" cy="377.8" rx="3.3" ry="3" fill="#000000"/>
<text x="461.5" y="381" font-size="9.4" letter-spacing="0.6"><tspan letter-spacing="0.9">MR#5</tspan> (Bimodal)</text></g>
</svg>
</body></html>
